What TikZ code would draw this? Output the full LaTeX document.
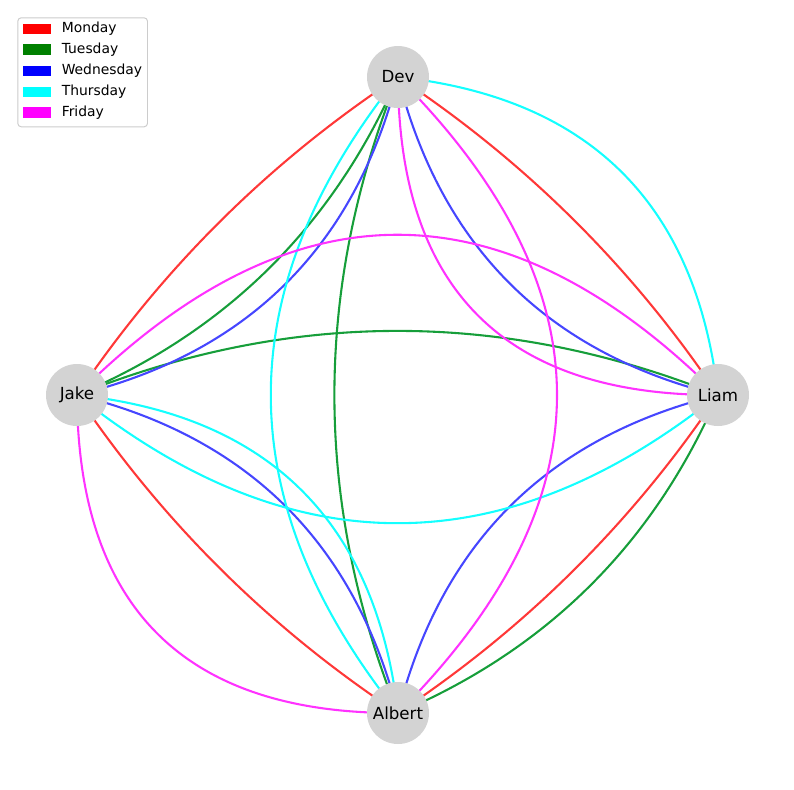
\documentclass[tikz,border=0pt]{standalone}
\usepackage{fontspec}
\setmainfont{DejaVu Sans}
\usetikzlibrary{calc,backgrounds}
\definecolor{mgreen}{HTML}{008000}
\definecolor{lred}{RGB}{255,0,0}
\definecolor{lblue}{RGB}{0,0,255}
\definecolor{lcyan}{RGB}{0,255,255}
\definecolor{lmagenta}{RGB}{255,0,255}
\definecolor{ered}{RGB}{255,56,56}
\definecolor{egreen}{RGB}{22,158,58}
\definecolor{eblue}{RGB}{70,70,255}
\definecolor{ecyan}{RGB}{20,255,255}
\definecolor{emagenta}{RGB}{255,50,255}
\definecolor{nodegray}{HTML}{D3D3D3}
\definecolor{legedge}{HTML}{CCCCCC}
\tikzset{
  person/.style={circle, fill=nodegray, minimum size=44.64pt, inner sep=0pt, font=\fontsize{12}{14}\selectfont},
  edgeline/.style={line width=1.5pt},
  mon/.style={edgeline, draw=ered},
  tue/.style={edgeline, draw=egreen},
  wed/.style={edgeline, draw=eblue},
  thu/.style={edgeline, draw=ecyan},
  fri/.style={edgeline, draw=emagenta},
  legpatch/.style={minimum width=20.4pt, minimum height=7.6pt, inner sep=0pt},
  legtext/.style={anchor=west, inner sep=0pt, font=\fontsize{10}{12}\selectfont},
}
\newcommand{\qedge}[4]{\draw[#1] (#2.center) .. controls ($(#2.center)!2/3!(#4)$) and ($(#3.center)!2/3!(#4)$) .. (#3.center);}
\begin{document}
\begin{tikzpicture}[x=0.72pt, y=-0.72pt]
\path[use as bounding box] (0,0) rectangle (794,790);
% nodes
\node[person] (D) at (398,77) {Dev};
\node[person] (J) at (77,395) {Jake};
\node[person] (L) at (718,395) {Liam};
\node[person] (A) at (398,713) {Albert};
\begin{scope}[on background layer]
% Monday
\qedge{mon}{D}{J}{205.7,203.9}
\qedge{mon}{D}{L}{589.8,204.0}
\qedge{mon}{J}{A}{205.7,586.1}
\qedge{mon}{L}{A}{589.8,586.0}
% Tuesday
\qedge{tue}{D}{J}{301.1,300.2}
\qedge{tue}{D}{A}{270.8,395}
\qedge{tue}{J}{L}{397.5,266.8}
\qedge{tue}{L}{A}{621.6,618.0}
% Wednesday
\qedge{wed}{D}{J}{332.9,332.3}
\qedge{wed}{D}{L}{462.6,332.0}
\qedge{wed}{J}{A}{332.9,457.7}
\qedge{wed}{L}{A}{462.6,458.0}
% Thursday
\qedge{thu}{D}{L}{685.2,108.0}
\qedge{thu}{D}{A}{143.6,395}
\qedge{thu}{J}{L}{397.5,651.4}
\qedge{thu}{J}{A}{364.7,425.6}
% Friday
\qedge{fri}{D}{L}{399.0,396.0}
\qedge{fri}{D}{A}{716,395}
\qedge{fri}{J}{L}{397.5,74.5}
\qedge{fri}{J}{A}{78.5,714.5}
\end{scope}
% legend
\node[draw=legedge, fill=white, fill opacity=0.8, rounded corners=2.5pt, line width=0.7pt, minimum width=93.4pt, minimum height=78.5pt, inner sep=0pt, anchor=north west] (leg) at (17.3,17.3) {};
\node[legpatch, fill=lred] (p1) at (37,28.8) {};
\node[legpatch, fill=mgreen] (p2) at (37,49.7) {};
\node[legpatch, fill=lblue] (p3) at (37,70.8) {};
\node[legpatch, fill=lcyan] (p4) at (37,91.9) {};
\node[legpatch, fill=lmagenta] (p5) at (37,112.7) {};
\node[legtext] (t1) at (61.5,28.8) {Monday};
\node[legtext] (t2) at (61.5,49.7) {Tuesday};
\node[legtext] (t3) at (61.5,70.8) {Wednesday};
\node[legtext] (t4) at (61.5,91.9) {Thursday};
\node[legtext] (t5) at (61.5,112.7) {Friday};
\end{tikzpicture}
\end{document}
